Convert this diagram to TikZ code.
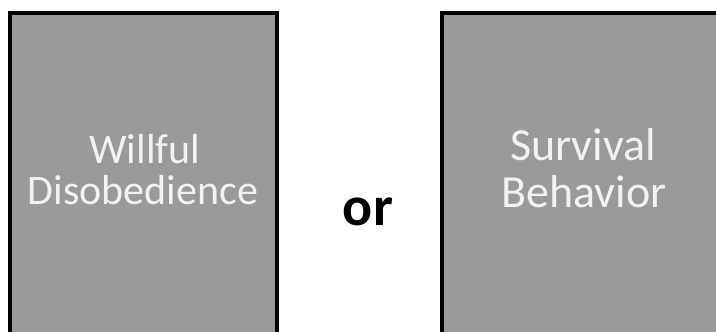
\documentclass[tikz,border=0pt]{standalone}
\usepackage{fontspec}
\setmainfont{Carlito}
\definecolor{boxgray}{HTML}{9A9A9A}
\definecolor{boxtext}{HTML}{F2F2F2}
\tikzset{
  panel/.style={draw=black, line width=4pt, fill=boxgray},
  paneltext/.style={text=boxtext, anchor=base, inner sep=0pt},
  ortext/.style={text=black, anchor=base, inner sep=0pt, font=\fontsize{56}{60}\selectfont\bfseries}
}
\begin{document}
\begin{tikzpicture}[x=1pt,y=-1pt]
\useasboundingbox (0,0) rectangle (716,332);
\fill[white] (0,0) rectangle (716,332);
\clip (0,0) rectangle (716,332);
\draw[panel] (10,13) rectangle (277,345);
\draw[panel] (442,13) rectangle (730,345);
\node[paneltext, font=\fontsize{42}{44}\selectfont] (l1) at (145,163) {Willful};
\node[paneltext, font=\fontsize{42}{44}\selectfont] (l2) at (143,204) {Disobedience};
\node[paneltext, font=\fontsize{46}{48}\selectfont] (r1) at (583,160) {Survival};
\node[paneltext, font=\fontsize{46}{48}\selectfont] (r2) at (584,207) {Behavior};
\node[ortext] (or) at (368,225) {or};
\end{tikzpicture}
\end{document}
